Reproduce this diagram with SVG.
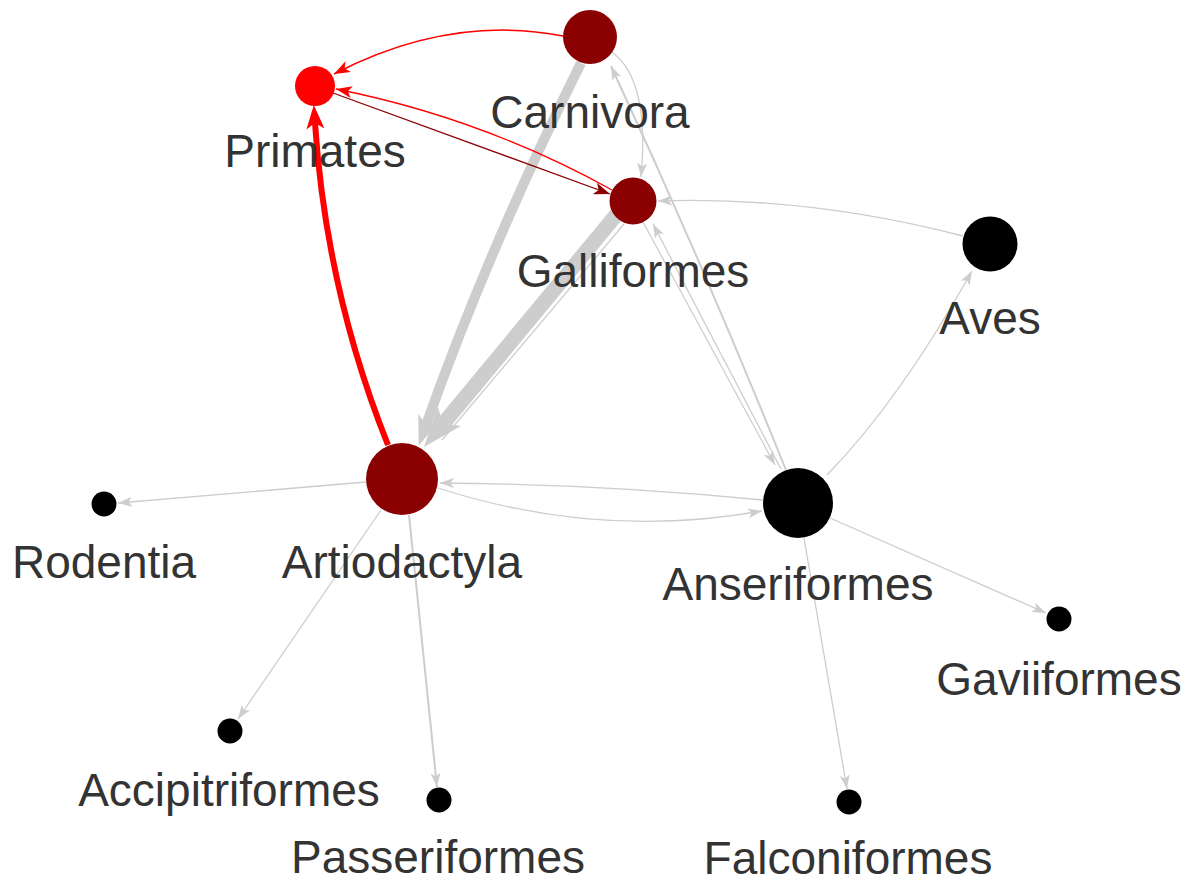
<svg xmlns="http://www.w3.org/2000/svg" width="1190" height="882" viewBox="0 0 1190 882">
<style>
.lbl{font-family:"Liberation Sans",Arial,Helvetica,sans-serif;font-size:46px;fill:#333333;text-anchor:middle}
.g{fill:none;stroke:#cdcdcd}
.r{fill:none;stroke:#ff0000}
.dr{fill:none;stroke:#8b0000}
.hub{fill:#8b0000}
.blk{fill:#000000}
</style>
<defs>
<marker id="ag" viewBox="0 0 14 10" refX="14" refY="5" markerWidth="14" markerHeight="10" markerUnits="userSpaceOnUse" orient="auto"><path d="M0,0 L14,5 L0,10 L3.5,5 z" fill="#cdcdcd"/></marker>
<marker id="ar" viewBox="0 0 16 12" refX="16" refY="6" markerWidth="16" markerHeight="12" markerUnits="userSpaceOnUse" orient="auto"><path d="M0,0 L16,6 L0,12 L4,6 z" fill="#ff0000"/></marker>
<marker id="adr" viewBox="0 0 16 12" refX="16" refY="6" markerWidth="16" markerHeight="12" markerUnits="userSpaceOnUse" orient="auto"><path d="M0,0 L16,6 L0,12 L4,6 z" fill="#8b0000"/></marker>
<marker id="arBig" viewBox="0 0 24 18" refX="6" refY="9" markerWidth="24" markerHeight="18" markerUnits="userSpaceOnUse" orient="auto"><path d="M0,0 L24,9 L0,18 L6,9 z" fill="#ff0000"/></marker>
<marker id="agMid" viewBox="0 0 30 22" refX="8" refY="11" markerWidth="30" markerHeight="22" markerUnits="userSpaceOnUse" orient="auto"><path d="M0,0 L30,11 L0,22 L8,11 z" fill="#cdcdcd"/></marker>
<marker id="agBig" viewBox="0 0 40 30" refX="10" refY="15" markerWidth="40" markerHeight="30" markerUnits="userSpaceOnUse" orient="auto"><path d="M0,0 L40,15 L0,30 L10,15 z" fill="#cdcdcd"/></marker>
</defs>

<g id="edges">
<!-- grey thick -->
<path class="g" stroke-width="10" d="M581,63 Q488,250 426,425" marker-end="url(#agMid)"/>
<path class="g" stroke-width="1.3" d="M624,224 L442,440"/>
<path class="g" stroke-width="15" d="M617,214 L443,424" marker-end="url(#agBig)"/>
<!-- grey thin -->
<path class="g" stroke-width="1.3" d="M612,52 Q650,80 641,177" marker-end="url(#ag)"/>
<path class="g" stroke-width="2" d="M786,470 Q703,264 611,66" marker-end="url(#ag)"/>
<path class="g" stroke-width="1.3" d="M643,222 L775,465" marker-end="url(#ag)"/>
<path class="g" stroke-width="1.3" d="M781,469 L653,224" marker-end="url(#ag)"/>
<path class="g" stroke-width="1.3" d="M963,236 Q810,196 658,201" marker-end="url(#ag)"/>
<path class="g" stroke-width="1.3" d="M827,475 Q900,400 972,271" marker-end="url(#ag)"/>
<path class="g" stroke-width="1.3" d="M763,500 Q600,484 440,483" marker-end="url(#ag)"/>
<path class="g" stroke-width="1.3" d="M438,488 Q599,540 762,511" marker-end="url(#ag)"/>
<path class="g" stroke-width="1.3" d="M366,482 L118,503" marker-end="url(#ag)"/>
<path class="g" stroke-width="1.3" d="M381,510 L238,719" marker-end="url(#ag)"/>
<path class="g" stroke-width="2" d="M409,515 L437,787" marker-end="url(#ag)"/>
<path class="g" stroke-width="1.3" d="M830,518 L1046,613" marker-end="url(#ag)"/>
<path class="g" stroke-width="1.3" d="M804,538 L847,789" marker-end="url(#ag)"/>
<!-- red -->
<path class="r" stroke-width="1.5" d="M563,36 Q450,14 334,74" marker-end="url(#ar)"/>
<path class="r" stroke-width="1.3" d="M612,190 Q482,118 336,89" marker-end="url(#ar)"/>
<path class="dr" stroke-width="1.3" d="M333,93 L610,194" marker-end="url(#adr)"/>
<path class="r" stroke-width="6" d="M388,445 Q326,290 315,123" marker-end="url(#arBig)"/>
</g>

<g id="node-carnivora"><circle class="hub" cx="590" cy="37" r="27"/><text class="lbl" x="590" y="128">Carnivora</text></g>
<g id="node-primates"><circle cx="315" cy="86" r="20" fill="#ff0000"/><text class="lbl" x="315" y="167">Primates</text></g>
<g id="node-galliformes"><circle class="hub" cx="633" cy="201" r="23.5"/><text class="lbl" x="633" y="287">Galliformes</text></g>
<g id="node-aves"><circle class="blk" cx="990" cy="244" r="27.5"/><text class="lbl" x="990" y="334">Aves</text></g>
<g id="node-artiodactyla"><circle class="hub" cx="402" cy="479" r="36"/><text class="lbl" x="402" y="578">Artiodactyla</text></g>
<g id="node-anseriformes"><circle class="blk" cx="798" cy="503" r="35"/><text class="lbl" x="798" y="600">Anseriformes</text></g>
<g id="node-rodentia"><circle class="blk" cx="104" cy="504" r="12.5"/><text class="lbl" x="104" y="578">Rodentia</text></g>
<g id="node-accipitriformes"><circle class="blk" cx="230" cy="731" r="12.5"/><text class="lbl" x="229" y="806">Accipitriformes</text></g>
<g id="node-passeriformes"><circle class="blk" cx="439" cy="800" r="12.5"/><text class="lbl" x="438" y="873">Passeriformes</text></g>
<g id="node-falconiformes"><circle class="blk" cx="849" cy="802" r="12.5"/><text class="lbl" x="848" y="874">Falconiformes</text></g>
<g id="node-gaviiformes"><circle class="blk" cx="1059" cy="619" r="12.5"/><text class="lbl" x="1059" y="695">Gaviiformes</text></g>
</svg>
